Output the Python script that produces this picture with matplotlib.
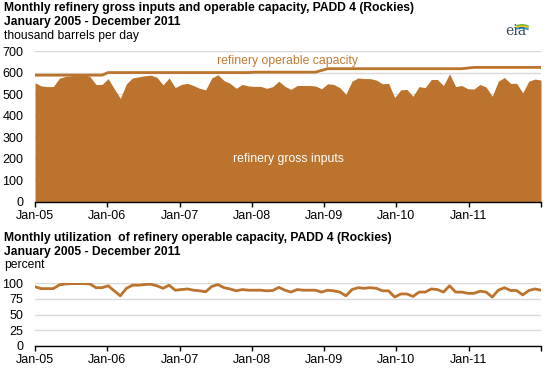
import numpy as np
import matplotlib
matplotlib.use("Agg")
import matplotlib.pyplot as plt
from matplotlib.patches import Arc

plt.rcParams['font.family'] = ['Liberation Sans', 'DejaVu Sans']

# ---------------- data ----------------
year_labels = ["Jan-05", "Jan-06", "Jan-07", "Jan-08", "Jan-09", "Jan-10", "Jan-11", ""]

gross_inputs = [553, 538, 535, 535, 574, 582, 585, 591, 590, 582, 545, 545,
                572, 525, 480, 548, 575, 580, 585, 588, 578, 543, 575, 530,
                545, 550, 540, 527, 520, 575, 590, 563, 550, 527, 545, 538,
                536, 536, 527, 535, 560, 536, 522, 540, 540, 540, 538, 525,
                548, 545, 530, 500, 560, 575, 572, 572, 565, 548, 550, 484,
                520, 522, 490, 535, 530, 568, 568, 540, 594, 535, 540, 525,
                524, 545, 533, 490, 560, 577, 550, 550, 506, 560, 570, 565]

operable_capacity = ([588] * 12 + [600] * 24 + [602] * 11 + [610] + [618] * 23
                     + [621] + [624] * 12)

utilization = [94.5, 91.5, 91.5, 91.5, 97.5, 99, 99.5, 99.5, 99.5, 99, 93, 93,
               96, 88, 80, 92, 97, 97, 98, 98.5, 96, 92, 97, 89,
               90, 91, 89, 88, 86.5, 95, 98, 93, 91, 88, 90, 89,
               89, 89, 88, 88.5, 93.5, 89, 86, 90, 89, 89, 89, 86,
               89, 88, 86, 80, 90, 93, 92, 93, 92, 88, 88, 78,
               83, 83, 79, 86, 86, 91, 90, 86, 96, 86, 86, 84,
               84, 87.5, 86, 78, 89, 93, 88.5, 88.5, 81.5, 88.5, 91, 89]

top_yticks = [0, 100, 200, 300, 400, 500, 600, 700]
bot_yticks = [0, 25, 50, 75, 100]

# ---------------- style ----------------
BROWN = "#bc732d"
TEXT_BROWN = "#c27b33"
GRID = "#d9d9d9"
W, H = 547, 369

fig = plt.figure(figsize=(W / 100, H / 100), dpi=100)

months = np.arange(len(gross_inputs))
xmax = len(gross_inputs) - 1
tick_pos = np.arange(len(year_labels)) * xmax / 7


def style_axes(ax, yticks):
    ax.set_xlim(0, xmax)
    ax.set_ylim(yticks[0], yticks[-1])
    ax.set_yticks(yticks)
    ax.set_xticks(tick_pos)
    ax.set_xticklabels(year_labels)
    for s in ("top", "right", "left"):
        ax.spines[s].set_visible(False)
    ax.spines["bottom"].set_color("black")
    ax.spines["bottom"].set_linewidth(1.0)
    ax.spines["bottom"].set_zorder(5)
    ax.tick_params(axis="y", length=0, pad=8.5, labelsize=9, colors="black")
    ax.tick_params(axis="x", length=3.5, width=1.0, direction="out", pad=2,
                   labelsize=9, colors="black")
    ax.grid(axis="y", color=GRID, linewidth=1.0)
    ax.grid(axis="x", visible=False)
    ax.set_axisbelow(True)


# Top chart
ax1 = fig.add_axes([35 / W, 1 - 202 / H, 506 / W, 151 / H])
ax1.fill_between(months, 0, gross_inputs, color=BROWN, linewidth=0, zorder=2)
ax1.plot(months, operable_capacity, color=BROWN, linewidth=2.0, zorder=3)
style_axes(ax1, top_yticks)
ax1.text(41.4, 655, "refinery operable capacity", color=TEXT_BROWN, fontsize=8.8,
         ha="center", va="center")
ax1.text(41.5, 198, "refinery gross inputs", color="white", fontsize=8.8,
         ha="center", va="center", zorder=4)

# Bottom chart
ax2 = fig.add_axes([35 / W, 1 - 346 / H, 506 / W, 62.7 / H])
ax2.plot(months, utilization, color=BROWN, linewidth=2.0, zorder=3)
style_axes(ax2, bot_yticks)

# Titles
def ftext(x, ybase, s, **kw):
    fig.text(x / W, 1 - ybase / H, s, va="baseline", ha="left", color="black", **kw)

ftext(4, 10.7, "Monthly refinery gross inputs and operable capacity, PADD 4 (Rockies)",
      fontsize=8.7, fontweight="bold")
ftext(4, 25.3, "January 2005 - December 2011", fontsize=8.7, fontweight="bold")
ftext(4, 39.3, "thousand barrels per day", fontsize=8.7)

ftext(4, 240.7, "Monthly utilization  of refinery operable capacity, PADD 4 (Rockies)",
      fontsize=8.7, fontweight="bold")
ftext(4, 255.3, "January 2005 - December 2011", fontsize=8.7, fontweight="bold")
ftext(4, 268.3, "percent", fontsize=8.7)

# eia logo
fig.text(516 / W, 1 - 35 / H, "eia", ha="center", va="baseline", fontsize=10,
         family="DejaVu Serif", color="#3a4a5a")
logo_ax = fig.add_axes([500 / W, 1 - 32 / H, 34 / W, 16 / H])
logo_ax.set_xlim(0, 34)
logo_ax.set_ylim(0, 16)
logo_ax.axis("off")
for dy, col in [(0, "#7ab648"), (1.5, "#f2c318"), (3, "#2e9bd6")]:
    logo_ax.add_patch(Arc((22, -4 - dy), 26, 22, theta1=55, theta2=120,
                          color=col, linewidth=1.4))

fig.savefig("out.png", dpi=100)
